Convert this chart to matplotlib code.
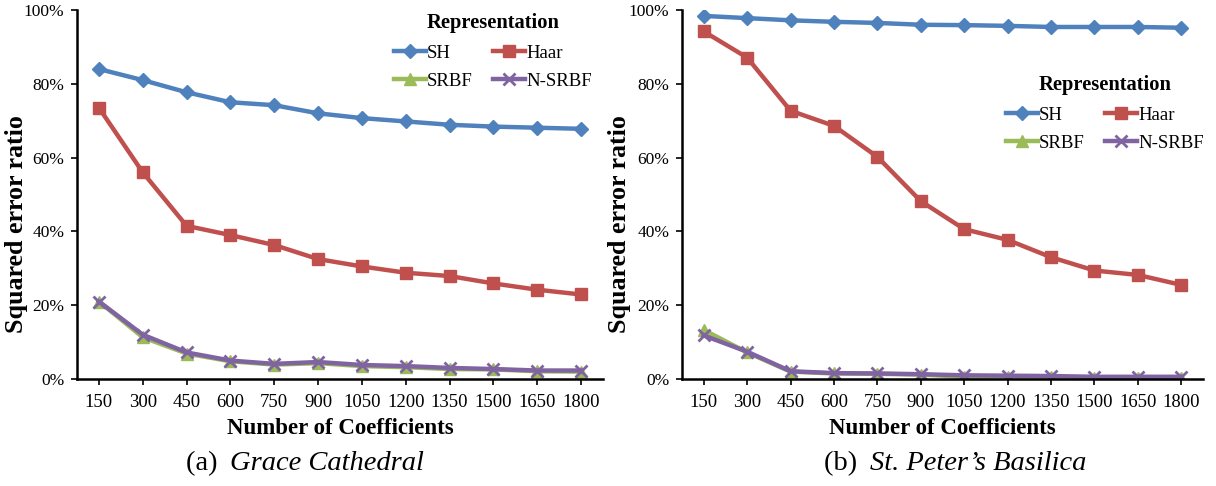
import matplotlib
matplotlib.use("Agg")
import matplotlib.pyplot as plt
from matplotlib.ticker import FuncFormatter

plt.rcParams['font.family'] = ['Liberation Serif', 'DejaVu Serif']

coeffs = [150, 300, 450, 600, 750, 900, 1050, 1200, 1350, 1500, 1650, 1800]
series_names = ["SH", "Haar", "SRBF", "N-SRBF"]

grace_sh = [84.0, 81.0, 77.7, 75.0, 74.2, 72.0, 70.7, 69.8, 68.9, 68.4, 68.1, 67.8]
grace_haar = [73.5, 56.0, 41.5, 39.0, 36.3, 32.5, 30.5, 28.8, 27.9, 25.9, 24.2, 22.9]
grace_srbf = [21.0, 11.3, 6.9, 4.8, 3.9, 4.3, 3.5, 3.2, 2.7, 2.6, 2.1, 2.0]
grace_nsrbf = [21.0, 12.0, 7.2, 5.0, 4.1, 4.6, 3.8, 3.5, 3.0, 2.7, 2.3, 2.3]

peter_sh = [98.4, 97.8, 97.2, 96.8, 96.5, 96.0, 95.9, 95.7, 95.4, 95.4, 95.4, 95.2]
peter_haar = [94.2, 87.1, 72.7, 68.6, 60.2, 48.2, 40.6, 37.7, 33.0, 29.4, 28.2, 25.5]
peter_srbf = [13.3, 7.2, 2.0, 1.5, 1.4, 1.2, 0.6, 0.5, 0.5, 0.4, 0.4, 0.4]
peter_nsrbf = [11.8, 7.4, 2.1, 1.6, 1.5, 1.3, 1.0, 0.9, 0.8, 0.6, 0.6, 0.6]

colors = ["#4F81BD", "#C0504D", "#9BBB59", "#8064A2"]
markers = ["D", "s", "^", "x"]
msizes = [7.5, 8.5, 8.5, 8.5]

W, H = 1216, 486
fig = plt.figure(figsize=(W / 100, H / 100), dpi=100)

panels = [
    dict(rect=[77 / W, (H - 379) / H, (603 - 77) / W, 369 / H],
         data=[grace_sh, grace_haar, grace_srbf, grace_nsrbf],
         caption=("(a) ", "Grace Cathedral"), cap_x=305,
         legend_anchor=(605, 0), ylab_x=-0.093),
    dict(rect=[682 / W, (H - 379) / H, (1203 - 682) / W, 369 / H],
         data=[peter_sh, peter_haar, peter_srbf, peter_nsrbf],
         caption=("(b) ", "St. Peter\u2019s Basilica"), cap_x=955,
         legend_anchor=(1217, 62), ylab_x=-0.098),
]

cap_pairs = []
for p in panels:
    ax = fig.add_axes(p["rect"])
    x = list(range(len(coeffs)))
    handles = []
    for name, vals, c, m, ms in zip(series_names, p["data"], colors, markers, msizes):
        kw = dict(color=c, lw=3.2, marker=m, markersize=ms, label=name)
        if m == "x":
            kw.update(markeredgewidth=2.0)
        h, = ax.plot(x, vals, **kw)
        handles.append(h)
    ax.set_xlim(-0.5, len(coeffs) - 0.5)
    ax.set_ylim(0, 100)
    ax.set_xticks(x)
    ax.set_xticklabels([str(c) for c in coeffs], fontsize=13.5)
    ax.set_yticks([0, 20, 40, 60, 80, 100])
    ax.yaxis.set_major_formatter(FuncFormatter(lambda v, _: f"{int(v)}%"))
    ax.tick_params(axis='y', labelsize=12.5, direction='out', length=4, width=1.2, pad=5)
    ax.tick_params(axis='x', direction='out', length=4, width=1.2, pad=7)
    for s in ["top", "right"]:
        ax.spines[s].set_visible(False)
    for s in ["left", "bottom"]:
        ax.spines[s].set_linewidth(1.8)
    ax.set_ylabel("Squared error ratio", fontsize=18.7, fontweight='bold')
    ax.yaxis.set_label_coords(p["ylab_x"], 0.42)
    ax.set_xlabel("Number of Coefficients", fontsize=16.5, fontweight='bold', labelpad=5)
    order = [0, 2, 1, 3]
    ax_px = p["legend_anchor"]
    leg = ax.legend([handles[i] for i in order], [series_names[i] for i in order],
                    ncol=2, loc='upper right',
                    bbox_to_anchor=(ax_px[0] / W, 1 - ax_px[1] / H),
                    bbox_transform=fig.transFigure,
                    title="Representation", frameon=False, fontsize=13.5,
                    handlelength=1.7, columnspacing=1.1, handletextpad=0.05,
                    labelspacing=0.6, borderpad=0.2)
    leg.get_title().set_fontweight('bold')
    leg.get_title().set_fontsize(14.8)
    t1 = fig.text(p["cap_x"] / W, 16 / H, p["caption"][0] + "\u2009", fontsize=20.5,
                  ha='right', va='baseline')
    t2 = fig.text(p["cap_x"] / W, 16 / H, p["caption"][1], fontsize=20.5, style='italic',
                  ha='left', va='baseline')
    cap_pairs.append((t1, t2, p["cap_x"]))

fig.canvas.draw()
r = fig.canvas.get_renderer()
for a, b, cx in cap_pairs:
    wa = a.get_window_extent(r).width
    wb = b.get_window_extent(r).width
    start = cx - (wa + wb) / 2
    a.set_position(((start + wa) / W, a.get_position()[1]))
    b.set_position(((start + wa) / W, b.get_position()[1]))

fig.savefig("out.png", dpi=100)
